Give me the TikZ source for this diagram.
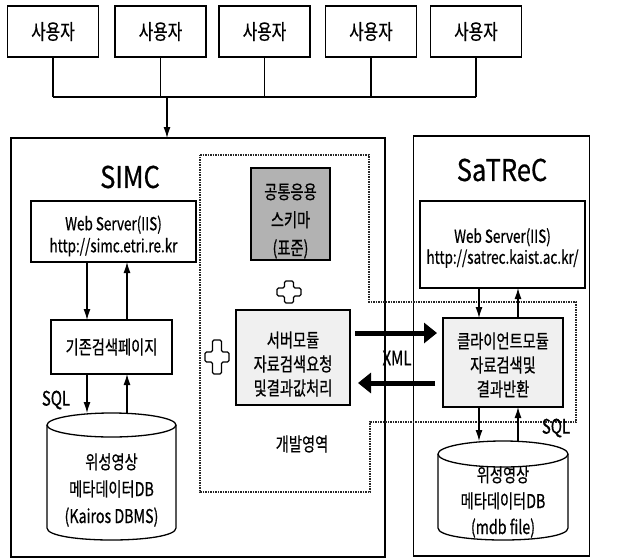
\documentclass[tikz,border=0pt]{standalone}
\usepackage{fontspec}
\setmainfont{Noto Sans CJK KR}[FakeStretch=0.75,FakeBold=0.6]
\newfontfamily\titlefont{Noto Sans CJK KR}[FakeStretch=0.85,FakeBold=0.6]
\usetikzlibrary{arrows.meta}
\begin{document}
\begin{tikzpicture}[x=1pt,y=-1pt,
  every node/.style={inner sep=0pt, outer sep=0pt},
  box/.style={draw, line width=1.3pt, align=center},
  ln/.style={line width=1.2pt},
  arr/.style={line width=1.2pt, -{Latex[length=11pt,width=7pt]}},
  big/.style={line width=5pt, -{Triangle[length=13pt,width=20pt]}},
  dev/.style={line width=1.3pt, dash pattern=on 1.5pt off 1pt, black!85},
  plusline/.style={line width=1.3pt, rounded corners=1.5pt, fill=white},
  txt/.style={align=center, font=\fontsize{19}{#1}\selectfont},
  lat/.style={align=center, font=\fontsize{18}{#1}\selectfont},
]
\useasboundingbox (0,0) rectangle (617,559);

% users
\foreach \i/\x in {1/53,2/160.5,3/264.5,4/371,5/476}
  \node[box, minimum width=91pt, minimum height=51pt, font=\fontsize{21}{21}\selectfont] (u\i) at (\x,31.5) {사용자};
\coordinate (bl) at (53,97);
\coordinate (br) at (476,97);
\foreach \i in {1,...,5} \draw[ln] (u\i.south) -- (u\i.south |- bl);
\draw[ln] (bl) -- (br);
\coordinate (j) at (167,97);

% containers
\node[box, minimum width=374pt, minimum height=419pt] (simc) at (198,347.5) {};
\node[box, minimum width=176pt, minimum height=420pt] (satrec) at (501.5,346) {};
\draw[arr] (j) -- (j |- simc.north);

% development region
\draw[dev] (200,155) -- (369,155) -- (369,302) -- (576,302) -- (576,422) -- (370,422) -- (370,492) -- (200,492) -- cycle;
\node[txt=19] (devl) at (302,444) {개발영역};

% titles
\node[font=\titlefont\fontsize{30}{30}\selectfont] (t1) at (130,177) {SIMC};
\node[font=\titlefont\fontsize{30}{30}\selectfont] (t2) at (502,170) {SaTReC};

% SIMC side
\node[box, minimum width=165pt, minimum height=61pt] (ws1) at (113.5,231.5) {};
\node[lat=22] (ws1t) at (113.5,236) {Web Server(IIS)\\http://simc.etri.re.kr};
\node[box, minimum width=121pt, minimum height=54pt, txt=19] (sp) at (111.5,347) {기존검색페이지};
\coordinate (xa) at (87,0);
\coordinate (xb) at (127,0);
\draw[arr] (xa |- ws1.south) -- (xa |- sp.north);
\draw[arr] (xb |- sp.north) -- (xb |- ws1.south);

% cylinder 1
\node[minimum width=129pt, minimum height=127pt] (db1) at (111.5,476.5) {};
\draw[line width=1.3pt, fill=white] (47,425) -- (47,528) .. controls (47,544) and (176,544) .. (176,528) -- (176,425);
\draw[line width=1.3pt, fill=white] (111.5,425) ellipse [x radius=64.5, y radius=12];
\node[txt=27] (db1t) at (111.5,490) {위성영상\\메타데이터DB\\(Kairos DBMS)};
\draw[arr] (xa |- sp.south) -- (xa |- db1.north);
\draw[arr] (xb |- db1.north) -- (xb |- sp.south);
\node[font=\fontsize{20}{20}\selectfont] (sql1) at (56,400) {SQL};

% centre
\node[box, minimum width=79pt, minimum height=92pt, fill=black!30] (schema) at (290.5,214) {};
\node[txt=28] (schemat) at (290.5,221) {공통응용\\스키마\\(표준)};
\node[box, minimum width=114pt, minimum height=95pt, fill=black!6] (srv) at (293,357.5) {};
\node[txt=24] (srvt) at (293,364) {서버모듈\\자료검색요청\\및결과값처리};
\draw[plusline] (284.5,281) -- (293.5,281) -- (293.5,288) -- (301,288) -- (301,296) -- (293.5,296) -- (293.5,303) -- (284.5,303) -- (284.5,296) -- (277,296) -- (277,288) -- (284.5,288) -- cycle;
\draw[plusline] (212.5,340) -- (221.5,340) -- (221.5,352) -- (229,352) -- (229,362) -- (221.5,362) -- (221.5,374) -- (212.5,374) -- (212.5,362) -- (205,362) -- (205,352) -- (212.5,352) -- cycle;

% SaTReC side
\node[box, minimum width=165pt, minimum height=87pt] (ws2) at (502.5,244.5) {};
\node[lat=21] (ws2t) at (502.5,248) {Web Server(IIS)\\http://satrec.kaist.ac.kr/};
\node[box, minimum width=120pt, minimum height=89pt, fill=black!6] (cli) at (503,362.5) {};
\node[txt=24] (clit) at (503,365) {클라이언트모듈\\자료검색및\\결과반환};
\coordinate (xc) at (479,0);
\coordinate (xd) at (518,0);
\draw[arr] (xc |- ws2.south) -- (xc |- cli.north);
\draw[arr] (xd |- cli.north) -- (xd |- ws2.south);

% cylinder 2
\node[minimum width=130pt, minimum height=99pt] (db2) at (503,490.5) {};
\draw[line width=1.3pt, fill=white] (438,454) -- (438,528) .. controls (438,544) and (568,544) .. (568,528) -- (568,454);
\draw[line width=1.3pt, fill=white] (503,454) ellipse [x radius=65, y radius=13];
\node[txt=26] (db2t) at (503,502) {위성영상\\메타데이터DB\\(mdb file)};
\draw[arr] (xc |- cli.south) -- (xc |- db2.north);
\draw[arr] (xd |- db2.north) -- (xd |- cli.south);
\node[font=\fontsize{20}{20}\selectfont] (sql2) at (556,428) {SQL};

% XML exchange
\coordinate (ya) at (0,333);
\coordinate (yb) at (0,383);
\draw[big, shorten <=5pt, shorten >=6pt] (srv.east |- ya) -- (cli.west |- ya);
\draw[big, shorten <=8pt, shorten >=8pt] (cli.west |- yb) -- (srv.east |- yb);
\node[font=\fontsize{20}{20}\selectfont] (xml) at (397,358) {XML};
\end{tikzpicture}
\end{document}
